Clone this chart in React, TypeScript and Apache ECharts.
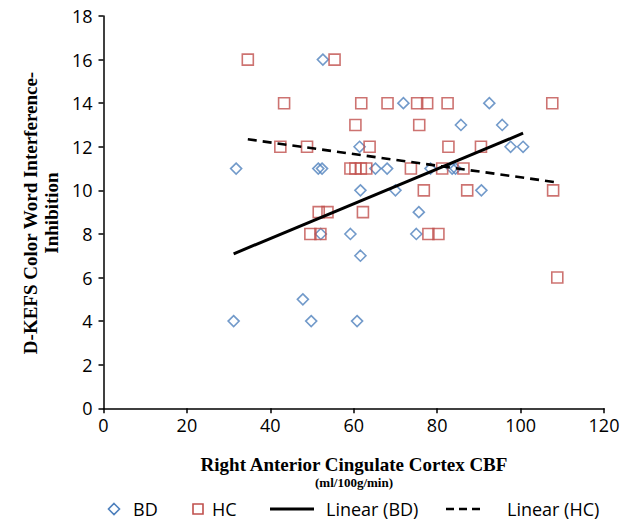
import React, { useEffect, useRef } from "react";
import * as echarts from "echarts";

// Data (x = CBF ml/100g/min, y = D-KEFS score)
const bdPoints: [number, number][] = [
  [31.2, 4], [31.8, 11], [47.8, 5], [49.8, 4], [51.5, 11], [52.1, 8], [52.4, 11],
  [52.6, 16], [59.2, 8], [60.8, 4], [61.4, 12], [61.6, 10], [61.6, 7], [65.2, 11],
  [68.0, 11], [70.0, 10], [71.9, 14], [75.0, 8], [75.6, 9], [78.4, 11], [83.6, 11],
  [84.4, 11], [85.7, 13], [90.6, 10], [92.5, 14], [95.6, 13], [97.6, 12], [100.6, 12],
];

const hcPoints: [number, number][] = [
  [34.6, 16], [55.4, 16],
  [43.3, 14], [61.8, 14], [68.1, 14], [75.2, 14], [77.6, 14], [82.5, 14], [107.6, 14],
  [60.4, 13], [75.7, 13],
  [42.4, 12], [48.8, 12], [63.8, 12], [82.7, 12], [90.5, 12],
  [59.2, 11], [60.4, 11], [61.7, 11], [63.0, 11], [73.7, 11], [81.2, 11], [86.3, 11],
  [76.8, 10], [87.2, 10], [107.8, 10],
  [51.6, 9], [53.7, 9], [62.2, 9],
  [49.6, 8], [52.0, 8], [77.9, 8], [80.3, 8],
  [108.8, 6],
];

const seriesNames = ["BD", "HC", "Linear (BD)", "Linear (HC)"];
const xAxisTitle = "Right Anterior Cingulate Cortex CBF";
const xAxisSubtitle = "(ml/100g/min)";
const yAxisTitle = "D-KEFS Color Word Interference-\nInhibition";

function linearFit(pts: [number, number][]): [number, number][] {
  const n = pts.length;
  const mx = pts.reduce((s, p) => s + p[0], 0) / n;
  const my = pts.reduce((s, p) => s + p[1], 0) / n;
  let sxy = 0;
  let sxx = 0;
  for (const [x, y] of pts) {
    sxy += (x - mx) * (y - my);
    sxx += (x - mx) * (x - mx);
  }
  const b = sxy / sxx;
  const a = my - b * mx;
  const xs = pts.map((p) => p[0]);
  const x0 = Math.min(...xs);
  const x1 = Math.max(...xs);
  return [
    [x0, a + b * x0],
    [x1, a + b * x1],
  ];
}

const BLUE = "#4F81BD";
const RED = "#C0504D";
const SANS = '"Open Sans", sans-serif';
const SERIF = '"Liberation Serif", "Times New Roman", serif';

export default function App() {
  const ref = useRef<HTMLDivElement>(null);

  useEffect(() => {
    document.body.style.margin = "0";
    if (!ref.current) return;
    const chart = echarts.init(ref.current, undefined, { renderer: "svg" });
    const legendY = 509;
    const option: any = {
      animation: false,
      backgroundColor: "#ffffff",
      grid: { left: 103.5, right: 28, top: 16, bottom: 114.7 },
      xAxis: {
        type: "value",
        min: 0,
        max: 120,
        interval: 20,
        splitLine: { show: false },
        axisLine: { show: true, onZero: false, lineStyle: { color: "#000", width: 1.5 } },
        axisTick: { show: true, inside: false, length: 5, lineStyle: { color: "#000", width: 1.5 } },
        axisLabel: { color: "#000", fontFamily: SANS, fontSize: 18, margin: 8 },
      },
      yAxis: {
        type: "value",
        min: 0,
        max: 18,
        interval: 2,
        splitLine: { show: false },
        axisLine: { show: true, onZero: false, lineStyle: { color: "#000", width: 1.5 } },
        axisTick: { show: true, inside: false, length: 5, lineStyle: { color: "#000", width: 1.5 } },
        axisLabel: { color: "#000", fontFamily: SANS, fontSize: 18, margin: 11 },
      },
      series: [
        {
          name: seriesNames[0],
          type: "scatter",
          symbol: "diamond",
          symbolSize: 11,
          data: bdPoints,
          itemStyle: { color: "rgba(255,255,255,0)", borderColor: BLUE, borderWidth: 1.6 },
          z: 2,
        },
        {
          name: seriesNames[1],
          type: "scatter",
          symbol: "rect",
          symbolSize: 11,
          data: hcPoints,
          itemStyle: { color: "rgba(255,255,255,0)", borderColor: RED, borderWidth: 1.6 },
          z: 2,
        },
        {
          name: seriesNames[2],
          type: "line",
          data: linearFit(bdPoints),
          showSymbol: false,
          symbol: "none",
          lineStyle: { color: "#000", width: 3 },
          z: 3,
        },
        {
          name: seriesNames[3],
          type: "line",
          data: linearFit(hcPoints),
          showSymbol: false,
          symbol: "none",
          lineStyle: { color: "#000", width: 2.6, type: [9, 6] },
          z: 3,
        },
      ],
      graphic: [
        {
          type: "text",
          x: 41,
          y: 213,
          rotation: Math.PI / 2,
          style: {
            text: yAxisTitle,
            fill: "#000",
            font: `bold 19px ${SERIF}`,
            lineHeight: 21,
            align: "center",
            verticalAlign: "middle",
          },
        },
        {
          type: "text",
          x: 354,
          y: 464,
          style: {
            text: xAxisTitle,
            fill: "#000",
            font: `bold 19px ${SERIF}`,
            align: "center",
            verticalAlign: "middle",
          },
        },
        {
          type: "text",
          x: 354,
          y: 482,
          style: {
            text: xAxisSubtitle,
            fill: "#000",
            font: `bold 13px ${SERIF}`,
            align: "center",
            verticalAlign: "middle",
          },
        },
        // Legend
        {
          type: "polygon",
          shape: {
            points: [
              [114, legendY - 5.5],
              [119.5, legendY],
              [114, legendY + 5.5],
              [108.5, legendY],
            ],
          },
          style: { fill: "none", stroke: BLUE, lineWidth: 1.6 },
        },
        {
          type: "text",
          x: 133,
          y: legendY,
          style: { text: seriesNames[0], fill: "#000", font: `18px ${SANS}`, verticalAlign: "middle" },
        },
        {
          type: "rect",
          shape: { x: 193, y: legendY - 5, width: 10, height: 10 },
          style: { fill: "none", stroke: RED, lineWidth: 1.6 },
        },
        {
          type: "text",
          x: 212,
          y: legendY,
          style: { text: seriesNames[1], fill: "#000", font: `18px ${SANS}`, verticalAlign: "middle" },
        },
        {
          type: "line",
          shape: { x1: 270, y1: legendY, x2: 314, y2: legendY },
          style: { stroke: "#000", lineWidth: 3 },
        },
        {
          type: "text",
          x: 326,
          y: legendY,
          style: { text: seriesNames[2], fill: "#000", font: `18px ${SANS}`, verticalAlign: "middle" },
        },
        {
          type: "line",
          shape: { x1: 446, y1: legendY, x2: 480, y2: legendY },
          style: { stroke: "#000", lineWidth: 2.6, lineDash: [8, 5] },
        },
        {
          type: "text",
          x: 507,
          y: legendY,
          style: { text: seriesNames[3], fill: "#000", font: `18px ${SANS}`, verticalAlign: "middle" },
        },
      ],
    };
    chart.setOption(option);
    return () => {
      chart.dispose();
    };
  }, []);

  return <div ref={ref} style={{ width: 632, height: 523 }} />;
}
